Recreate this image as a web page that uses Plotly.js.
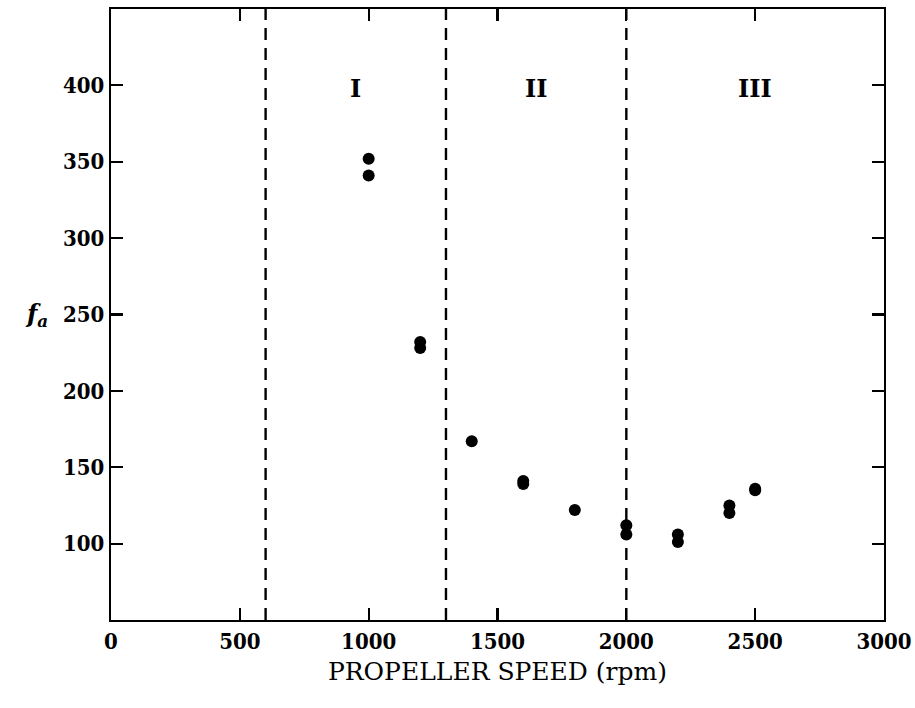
<!DOCTYPE html>
<html>
<head>
<meta charset="utf-8">
<script src="https://cdn.plot.ly/plotly-3.0.1.min.js"></script>
<style>html,body{margin:0;padding:0;background:#fff}#chart{width:915px;height:708px}</style>
</head>
<body>
<div id="chart"></div>
<script>
// Data
const speedRpm = [1000, 1000, 1200, 1200, 1400, 1600, 1600, 1800, 2000, 2000, 2200, 2200, 2400, 2400, 2500, 2500];
const fa       = [352, 341, 232, 228, 167, 141, 139, 122, 112, 106, 106, 101, 125, 120, 136, 135];
const regionBounds = [600, 1300, 2000];
const regionNames = ['I', 'II', 'III'];
const regionCenters = [950, 1650, 2500];
const regionLabelY = 398;
const xTicks = [0, 500, 1000, 1500, 2000, 2500, 3000];
const yTicks = [100, 150, 200, 250, 300, 350, 400];

const serif = 'DejaVu Serif, Liberation Serif, serif';
const serifCond = '"DejaVu Serif Condensed", "DejaVu Serif", serif';

const trace = {
  x: speedRpm, y: fa, type: 'scatter', mode: 'markers',
  marker: {color: '#000', size: 12},
  hoverinfo: 'none', showlegend: false
};

const shapes = regionBounds.map(b => ({
  type: 'line', xref: 'x', yref: 'paper', x0: b, x1: b, y0: 0, y1: 1,
  line: {color: '#000', width: 2.4, dash: '12px,8px'}
}));

const annotations = regionNames.map((n, i) => ({
  x: regionCenters[i], y: regionLabelY, xref: 'x', yref: 'y',
  text: n, showarrow: false,
  font: {family: serif, size: 24, color: '#000', weight: 'bold'}
}));
annotations.push({
  xref: 'paper', yref: 'y', x: -0.097, y: 250, xanchor: 'center', yanchor: 'middle',
  text: '<i>f<sub>a</sub></i>', showarrow: false,
  font: {family: serif, size: 24, color: '#000', weight: 'bold'}
});

const axisCommon = {
  showgrid: false, zeroline: false, showline: true, linecolor: '#000', linewidth: 2.2,
  mirror: 'ticks', ticks: 'inside', ticklen: 12, tickwidth: 2.2, tickcolor: '#000',
  tickfont: {family: serifCond, size: 22, color: '#000', weight: 'bold'}
};

const layout = {
  width: 915, height: 708,
  margin: {l: 111, r: 31, t: 9, b: 88},
  paper_bgcolor: '#fff', plot_bgcolor: '#fff',
  xaxis: Object.assign({}, axisCommon, {
    range: [0, 3000], tickvals: xTicks, ticktext: xTicks.map(String),
    title: {text: 'PROPELLER SPEED (rpm)', standoff: 10,
            font: {family: serif, size: 25, color: '#000'}}
  }),
  yaxis: Object.assign({}, axisCommon, {
    range: [50, 450], tickvals: yTicks, ticktext: yTicks.map(String)
  }),
  shapes: shapes,
  annotations: annotations
};

Plotly.newPlot('chart', [trace], layout, {displayModeBar: false, staticPlot: true});
</script>
</body>
</html>
